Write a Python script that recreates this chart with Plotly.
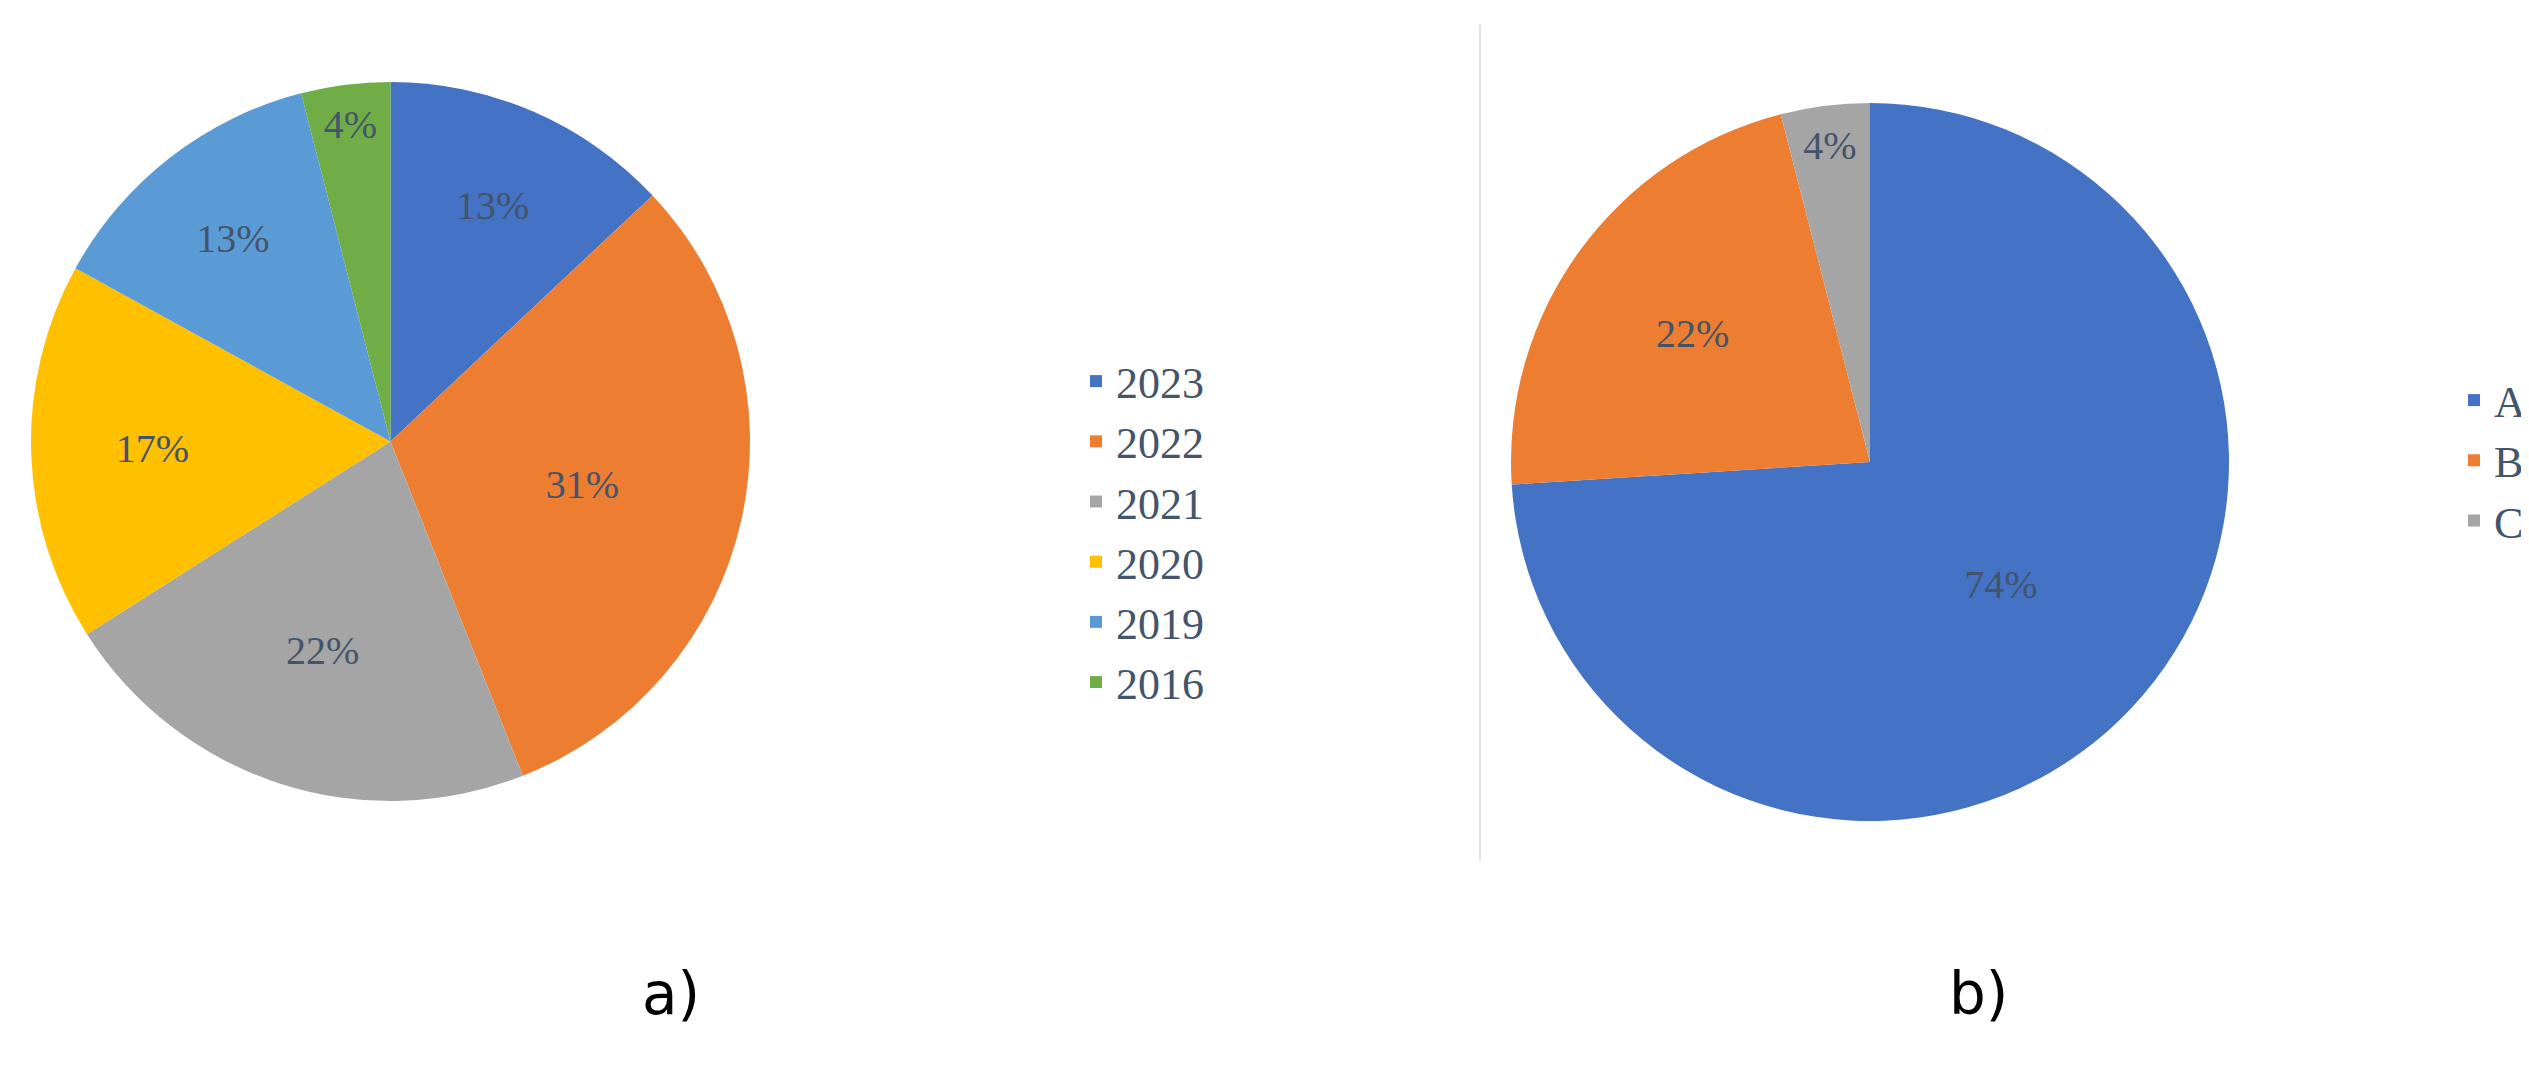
import plotly.graph_objects as go

years = ["2023", "2022", "2021", "2020", "2019", "2016"]
year_vals = [13, 31, 22, 17, 13, 4]
year_colors = ["#4472C4", "#ED7D31", "#A5A5A5", "#FFC000", "#5B9BD5", "#70AD47"]

cats = ["A", "B", "C"]
cat_vals = [74, 22, 4]
cat_colors = ["#4472C4", "#ED7D31", "#A5A5A5"]

W, H = 2529, 1073
font = "Liberation Serif"
txtc = "#44546A"

fig = go.Figure()
fig.add_trace(go.Pie(
    labels=years, values=year_vals, sort=False, direction="clockwise", rotation=0,
    marker=dict(colors=year_colors, line=dict(color="white", width=0)),
    textinfo="percent", texttemplate="%{value}%", textposition="inside",
    insidetextorientation="horizontal",
    textfont=dict(family=font, size=40, color=txtc),
    domain=dict(x=[23/W, 742/W], y=[1-795/H, 1-72/H]),
    legend="legend",
))
fig.add_trace(go.Pie(
    labels=cats, values=cat_vals, sort=False, direction="clockwise", rotation=0,
    marker=dict(colors=cat_colors, line=dict(color="white", width=0)),
    textinfo="percent", texttemplate="%{value}%", textposition="inside",
    insidetextorientation="horizontal",
    textfont=dict(family=font, size=40, color=txtc),
    domain=dict(x=[1503/W, 2221/W], y=[1-815/H, 1-93/H]),
    legend="legend2",
))

fig.add_shape(type="line", xref="paper", yref="paper",
              x0=1472/W, x1=1472/W, y0=1-853/H, y1=1-17/H,
              line=dict(color="#D9D9D9", width=1.5))
fig.add_annotation(text="a)", x=632/W, y=1-1022/H, xref="paper", yref="paper",
                   showarrow=False, font=dict(family="DejaVu Sans", size=58, color="black"))
fig.add_annotation(text="b)", x=2002/W, y=1-1022/H, xref="paper", yref="paper",
                   showarrow=False, font=dict(family="DejaVu Sans", size=58, color="black"))

fig.update_layout(
    width=W, height=H, margin=dict(l=0, r=0, t=0, b=0),
    paper_bgcolor="white", plot_bgcolor="white",
    legend=dict(x=1068/W, y=1-338/H, xanchor="left", yanchor="top",
                font=dict(family=font, size=44, color=txtc), tracegroupgap=0,
                itemwidth=30),
    legend2=dict(x=2446/W, y=1-357/H, xanchor="left", yanchor="top",
                 font=dict(family=font, size=44, color=txtc), itemwidth=30),
)
fig.write_html("out.html")
